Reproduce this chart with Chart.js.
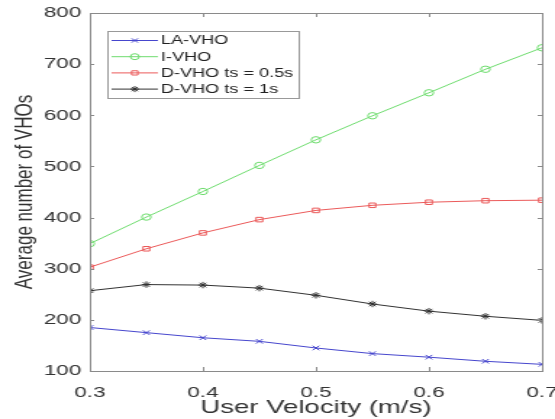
<!DOCTYPE html>
<html>
<head>
<meta charset="utf-8">
<script src="https://cdn.jsdelivr.net/npm/chart.js@4.4.0/dist/chart.umd.min.js"></script>
<style>
  html, body { margin: 0; padding: 0; background: #fff; overflow: hidden; }
  #wrap { width: 383px; height: 419px; transform: scaleX(1.4491); transform-origin: 0 0; }
</style>
</head>
<body>
<div id="wrap"><canvas id="c" width="383" height="419"></canvas></div>
<script>
// ---- data ----
const velocities = [0.3, 0.35, 0.4, 0.45, 0.5, 0.55, 0.6, 0.65, 0.7];
const laVho   = [185, 175, 165, 158, 145, 134, 127, 119, 113];
const iVho    = [349, 401, 451, 502, 552, 599, 644, 690, 732];
const dVho05  = [303, 339, 370, 396, 414, 424, 430, 433, 434];
const dVho1   = [257, 269, 268, 262, 248, 231, 217, 207, 199];
const seriesLabels = ['LA-VHO', 'I-VHO', 'D-VHO ts = 0.5s', 'D-VHO ts = 1s'];
const xTickValues = [0.3, 0.4, 0.5, 0.6, 0.7];
const yTickValues = [100, 200, 300, 400, 500, 600, 700, 800];
const xTitle = 'User Velocity (m/s)';
const yTitle = 'Average number of VHOs';

const FONT = "'Liberation Sans', Arial, sans-serif";
const pts = arr => arr.map((v, i) => ({ x: velocities[i], y: v }));

function ds(label, data, color, style) {
  return {
    label, data: pts(data), borderColor: color, backgroundColor: 'rgba(0,0,0,0)',
    borderWidth: 1, pointStyle: style, pointRadius: 3.2, pointBorderWidth: 1,
    pointBorderColor: color, pointBackgroundColor: 'rgba(0,0,0,0)', tension: 0
  };
}

const datasets = [
  ds(seriesLabels[0], laVho, 'rgb(70,70,205)', 'crossRot'),
  ds(seriesLabels[1], iVho, 'rgb(110,220,110)', 'circle'),
  ds(seriesLabels[2], dVho05, 'rgb(235,90,90)', 'rect'),
  ds(seriesLabels[3], dVho1, 'rgb(50,50,50)', 'star')
];

const frame = {
  id: 'frame',
  afterDatasetsDraw(chart) {
    const { ctx, chartArea: a, scales } = chart;
    ctx.save();
    ctx.strokeStyle = '#8a8a8a';
    ctx.lineWidth = 1;
    ctx.strokeRect(a.left + 0.5, a.top + 0.5, a.right - a.left, a.bottom - a.top);
    ctx.beginPath();
    xTickValues.forEach(v => {
      const px = Math.round(scales.x.getPixelForValue(v)) + 0.5;
      ctx.moveTo(px, a.bottom); ctx.lineTo(px, a.bottom - 4);
      ctx.moveTo(px, a.top); ctx.lineTo(px, a.top + 4);
    });
    yTickValues.forEach(v => {
      const py = Math.round(scales.y.getPixelForValue(v)) + 0.5;
      ctx.moveTo(a.left, py); ctx.lineTo(a.left + 3, py);
      ctx.moveTo(a.right, py); ctx.lineTo(a.right - 3, py);
    });
    ctx.stroke();

    // legend
    const bx = 74.5, by = 31.5, bw = 132, bh = 67;
    ctx.fillStyle = '#fff';
    ctx.fillRect(bx, by, bw, bh);
    ctx.strokeStyle = '#999';
    ctx.strokeRect(bx, by, bw, bh);
    ctx.font = '12.5px ' + FONT;
    ctx.textBaseline = 'middle';
    chart.data.datasets.forEach((d, i) => {
      const y = 40.5 + i * 16.2;
      ctx.strokeStyle = d.borderColor;
      ctx.lineWidth = 1;
      ctx.beginPath(); ctx.moveTo(77, y); ctx.lineTo(109, y); ctx.stroke();
      ctx.fillStyle = 'rgba(0,0,0,0)';
      Chart.helpers.drawPoint(ctx, { pointStyle: d.pointStyle, radius: 3, borderWidth: 1, rotation: 0 }, 93, y);
      ctx.fillStyle = '#222';
      ctx.fillText(d.label, 111, y + 0.5);
    });
    ctx.restore();
  }
};

new Chart(document.getElementById('c'), {
  type: 'line',
  data: { datasets },
  plugins: [frame],
  options: {
    responsive: false, animation: false, devicePixelRatio: 1,
    layout: { padding: { top: 13, right: 9, bottom: 0, left: 0 } },
    plugins: { legend: { display: false }, tooltip: { enabled: false } },
    scales: {
      x: {
        type: 'linear', min: 0.3, max: 0.7,
        afterBuildTicks: s => { s.ticks = xTickValues.map(v => ({ value: v })); },
        afterFit: s => { s.height = 48; s.paddingLeft = 0; s.paddingRight = 0; },
        grid: { display: false, drawTicks: false },
        border: { display: false },
        ticks: { padding: 12, color: '#333', font: { family: FONT, size: 15.5 }, maxRotation: 0,
                 callback: v => v.toFixed(1) },
        title: { display: true, text: xTitle, color: '#333', padding: { top: 0, bottom: 0 },
                 font: { family: FONT, size: 19 } }
      },
      y: {
        type: 'linear', min: 100, max: 800,
        afterBuildTicks: s => { s.ticks = yTickValues.map(v => ({ value: v })); },
        afterFit: s => { s.width = 62; s.paddingTop = 0; s.paddingBottom = 0; },
        grid: { display: false, drawTicks: false },
        border: { display: false },
        ticks: { padding: 6, color: '#333', font: { family: FONT, size: 15.5 },
                 callback: v => String(v) },
        title: { display: true, text: yTitle, color: '#333', padding: { top: 7, bottom: 0 },
                 font: { family: FONT, size: 17 } }
      }
    }
  }
});
</script>
</body>
</html>
